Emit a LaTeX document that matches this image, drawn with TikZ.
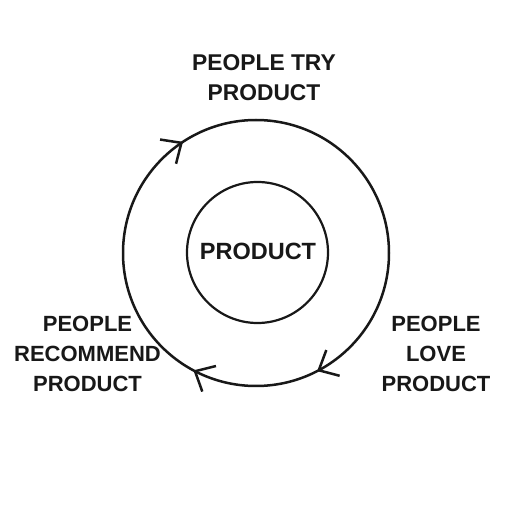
\documentclass[tikz,border=0pt]{standalone}
\usepackage{fontspec}
\setmainfont{Liberation Sans}
\usetikzlibrary{arrows.meta,decorations.markings,positioning}
\definecolor{cyink}{RGB}{24,24,24}
\tikzstyle{hub} = [circle, draw=cyink, line width=2.2pt, minimum size=141pt, inner sep=0pt, text=cyink, font=\fontsize{23.5}{28}\selectfont\bfseries]
\tikzstyle{stage} = [align=center, text=cyink, font=\fontsize{22}{30}\selectfont\bfseries]
\tikzstyle{ring} = [draw=cyink, line width=2.5pt]
\tikzset{barb/.tip={Straight Barb[length=16pt, width=29pt]}}

\begin{document}
\begin{tikzpicture}[x=1pt, y=1pt]
\path[fill=white, use as bounding box] (0,0) rectangle (512,512);

% Outer loop, arrows run clockwise
\draw[ring, postaction={decorate}, decoration={markings,
  mark=at position 0.3425 with {\arrowreversed{barb}},
  mark=at position 0.672 with {\arrowreversed{barb}},
  mark=at position 0.826 with {\arrowreversed{barb}}}]
  (256,259) circle (133);

% Product in the middle
\node (product) [hub] at (257.5,259.5) {};
\node (name) at (258,252) [anchor=base, text=cyink, font=\fontsize{23.5}{28}\selectfont\bfseries] {PRODUCT};

% The three stages
\node (try) [stage, anchor=base, font=\fontsize{22.8}{30}\selectfont\bfseries] at (264,411.3) {PEOPLE TRY\\PRODUCT};
\node (love) [stage, anchor=base] at (436,120.5) {PEOPLE\\LOVE\\PRODUCT};
\node (recommend) [stage, anchor=base] at (87.5,120.5) {PEOPLE\\RECOMMEND\\PRODUCT};
\end{tikzpicture}
\end{document}
